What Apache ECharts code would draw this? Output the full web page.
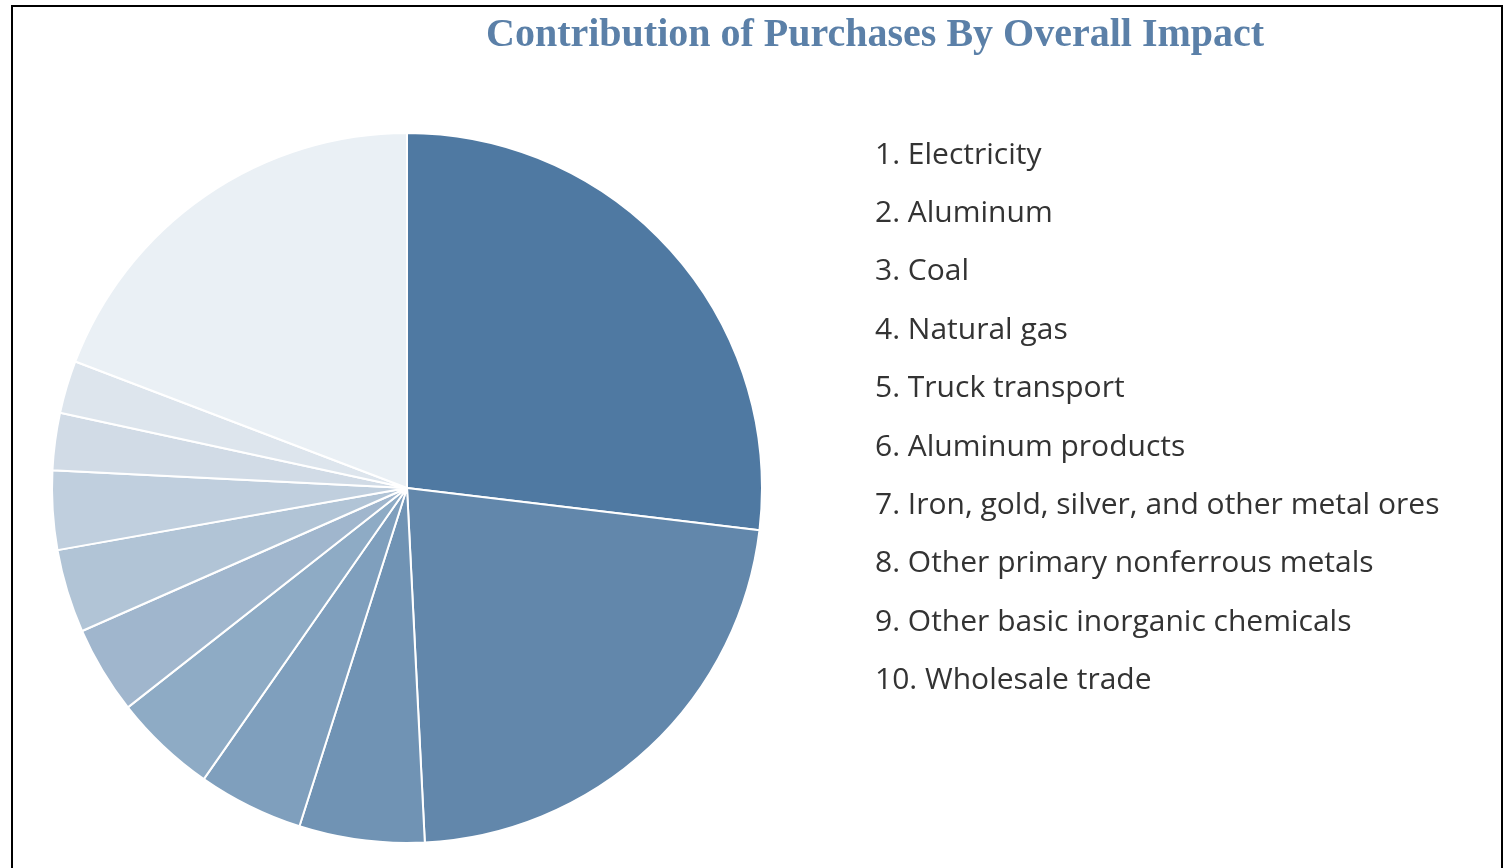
<!DOCTYPE html>
<html>
<head>
<meta charset="utf-8">
<script src="https://cdn.jsdelivr.net/npm/echarts@6/dist/echarts.min.js"></script>
<style>
  html, body { margin: 0; padding: 0; background: #fff; }
  #main { width: 1511px; height: 868px; }
</style>
</head>
<body>
<div id="main"></div>
<script>
// slice names, clockwise from 12 o'clock (last slice has no legend entry)
var names = [
    'Electricity',
    'Aluminum',
    'Coal',
    'Natural gas',
    'Truck transport',
    'Aluminum products',
    'Iron, gold, silver, and other metal ores',
    'Other primary nonferrous metals',
    'Other basic inorganic chemicals',
    'Wholesale trade',
    'All other'
];
// share of impact, %
var values = [26.9, 22.3, 5.7, 4.8, 4.7, 4.0, 3.8, 3.6, 2.6, 2.4, 19.2];
var colors = ['#4f79a2', '#6287ab', '#7093b4', '#7f9fbd', '#8eabc5', '#a0b6cd',
              '#b1c4d6', '#c0cfde', '#d1dbe6', '#dde5ed', '#eaf0f5'];

var legendNames = names.slice(0, 10);

var pieData = [];
for (var i = 0; i < names.length; i++) {
    pieData.push({ name: names[i], value: values[i], itemStyle: { color: colors[i] } });
}

var myChart = echarts.init(document.getElementById('main'));

var option = {
    animation: false,
    title: {
        text: 'Contribution of Purchases By Overall Impact',
        left: 481,
        top: 11,
        textStyle: {
            fontFamily: 'Liberation Serif',
            fontSize: 40,
            fontWeight: 'bold',
            color: '#5b80a8'
        }
    },
    legend: {
        orient: 'vertical',
        left: 865,
        top: 135,
        icon: 'none',
        itemWidth: 0,
        itemHeight: 30,
        itemGap: 28.4,
        selectedMode: false,
        data: legendNames,
        formatter: function (name) {
            return (legendNames.indexOf(name) + 1) + '. ' + name;
        },
        textStyle: {
            fontFamily: 'Open Sans',
            fontSize: 30,
            lineHeight: 30,
            color: '#333'
        }
    },
    graphic: [{
        type: 'rect',
        shape: { x: 12, y: 6, width: 1490, height: 900 },
        style: { fill: 'none', stroke: '#000', lineWidth: 2 },
        silent: true
    }],
    series: [{
        type: 'pie',
        center: [407, 488],
        radius: 355,
        startAngle: 90,
        clockwise: true,
        label: { show: false },
        labelLine: { show: false },
        itemStyle: { borderColor: '#fff', borderWidth: 2 },
        data: pieData
    }]
};

myChart.setOption(option);
</script>
</body>
</html>
